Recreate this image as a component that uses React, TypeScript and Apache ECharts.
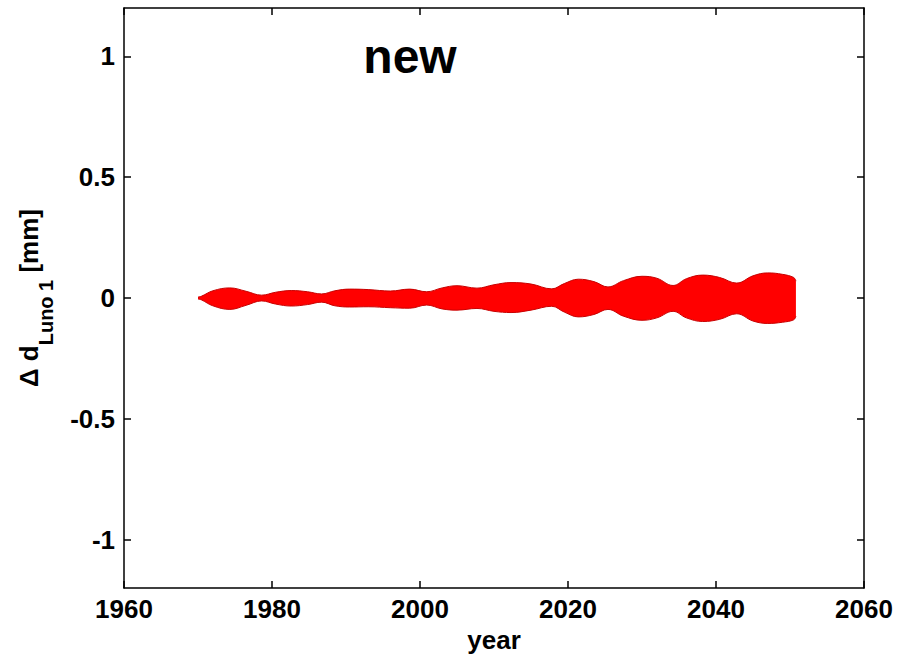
import React, { useEffect, useRef } from "react";
import * as echarts from "echarts";

// Envelope of the oscillating signal
const years = [
  1970.0, 1970.5, 1972.0, 1974.3, 1976.5, 1978.6, 1980.5, 1982.6, 1984.8, 1986.7,
  1988.5, 1990.5, 1993.0, 1996.0, 1998.6, 2000.9, 2003.0, 2005.0, 2007.7, 2010.0,
  2012.3, 2015.0, 2017.8, 2019.5, 2021.4, 2023.5, 2025.4, 2027.5, 2030.0, 2032.0,
  2034.2, 2036.0, 2038.2, 2040.5, 2042.8, 2045.0, 2047.0, 2049.0, 2050.5, 2050.8,
];
const upperEnvelope = [
  0.004, 0.008, 0.030, 0.042, 0.028, 0.012, 0.024, 0.031, 0.026, 0.017,
  0.030, 0.037, 0.035, 0.029, 0.037, 0.026, 0.042, 0.051, 0.041, 0.055,
  0.064, 0.058, 0.038, 0.060, 0.078, 0.068, 0.046, 0.072, 0.090, 0.082,
  0.052, 0.080, 0.095, 0.085, 0.062, 0.092, 0.104, 0.098, 0.085, 0.070,
];
const lowerEnvelope = [
  -0.004, -0.008, -0.032, -0.047, -0.030, -0.012, -0.025, -0.033, -0.027, -0.017,
  -0.032, -0.037, -0.036, -0.040, -0.042, -0.029, -0.045, -0.050, -0.043, -0.055,
  -0.060, -0.050, -0.034, -0.058, -0.078, -0.068, -0.047, -0.075, -0.092, -0.082,
  -0.055, -0.082, -0.097, -0.088, -0.065, -0.095, -0.105, -0.100, -0.090, -0.075,
];
const xTicks = [1960, 1980, 2000, 2020, 2040, 2060];
const yTicks = [-1, -0.5, 0, 0.5, 1];

const FONT = "'Liberation Sans', Arial, Helvetica, sans-serif";

export default function App() {
  const ref = useRef<HTMLDivElement>(null);
  useEffect(() => {
    if (!ref.current) return;
    const chart = echarts.init(ref.current, null, { renderer: "svg" });
    const upper = years.map((y, i) => [y, upperEnvelope[i]]);
    const lower = years.map((y, i) => [y, lowerEnvelope[i]]);
    const bandSeries = (data: number[][]) => ({
      type: "line",
      data,
      symbol: "none",
      smooth: 0.4,
      xAxisIndex: 0,
      yAxisIndex: 0,
      lineStyle: { color: "#c80000", width: 1 },
      areaStyle: { color: "#ff0000", opacity: 1, origin: 0 },
      silent: true,
    });
    const axisLine = { show: true, onZero: false, lineStyle: { color: "#000", width: 1.5 } };
    const labelStyle = { fontSize: 26, color: "#000", fontFamily: FONT, fontWeight: "bold" };
    chart.setOption({
      animation: false,
      backgroundColor: "#ffffff",
      textStyle: { fontFamily: FONT },
      grid: { left: 124, right: 42, top: 8, bottom: 68, containLabel: false },
      xAxis: [
        {
          type: "value",
          min: 1960,
          max: 2060,
          interval: 20,
          position: "bottom",
          axisLine,
          axisTick: { show: true, inside: true, length: 7, customValues: xTicks, lineStyle: { color: "#000", width: 1.5 } },
          axisLabel: { show: true, customValues: xTicks, ...labelStyle, margin: 8, formatter: (v: number) => String(v) },
          splitLine: { show: false },
          name: "year",
          nameLocation: "middle",
          nameGap: 38,
          nameTextStyle: { fontSize: 26, fontWeight: "bold", color: "#000", fontFamily: FONT },
        },
        {
          type: "value",
          min: 1960,
          max: 2060,
          interval: 20,
          position: "top",
          axisLine,
          axisTick: { show: true, inside: true, length: 7, customValues: xTicks, lineStyle: { color: "#000", width: 1.5 } },
          axisLabel: { show: false },
          splitLine: { show: false },
        },
      ],
      yAxis: [
        {
          type: "value",
          min: -1.2,
          max: 1.2,
          position: "left",
          axisLine,
          axisTick: { show: true, inside: true, length: 7, customValues: yTicks, lineStyle: { color: "#000", width: 1.5 } },
          axisLabel: { show: true, customValues: yTicks, ...labelStyle, margin: 9, formatter: (v: number) => String(v) },
          splitLine: { show: false },
          name: "{m|\u0394 d}{s|Luno 1}{m| [mm]}",
          nameLocation: "middle",
          nameRotate: 90,
          nameGap: 68,
          nameTextStyle: {
            color: "#000",
            fontFamily: FONT,
            rich: {
              m: { fontSize: 26, fontWeight: "bold", color: "#000", fontFamily: FONT, lineHeight: 40, verticalAlign: "top" },
              s: { fontSize: 20, fontWeight: "bold", color: "#000", fontFamily: FONT, lineHeight: 40, verticalAlign: "bottom" },
            },
          },
        },
        {
          type: "value",
          min: -1.2,
          max: 1.2,
          position: "right",
          axisLine,
          axisTick: { show: true, inside: true, length: 7, customValues: yTicks, lineStyle: { color: "#000", width: 1.5 } },
          axisLabel: { show: false },
          splitLine: { show: false },
        },
      ],
      graphic: [
        {
          type: "text",
          x: 410,
          y: 56,
          style: {
            text: "new",
            fontSize: 48,
            fontWeight: "bold",
            fontFamily: FONT,
            fill: "#000",
            align: "center",
            verticalAlign: "middle",
          },
        },
      ],
      series: [bandSeries(upper), bandSeries(lower)],
    });
    return () => chart.dispose();
  }, []);
  return (
    <div
      ref={ref}
      style={{ position: "fixed", left: 0, top: 0, width: 906, height: 658, background: "#fff" }}
    />
  );
}
